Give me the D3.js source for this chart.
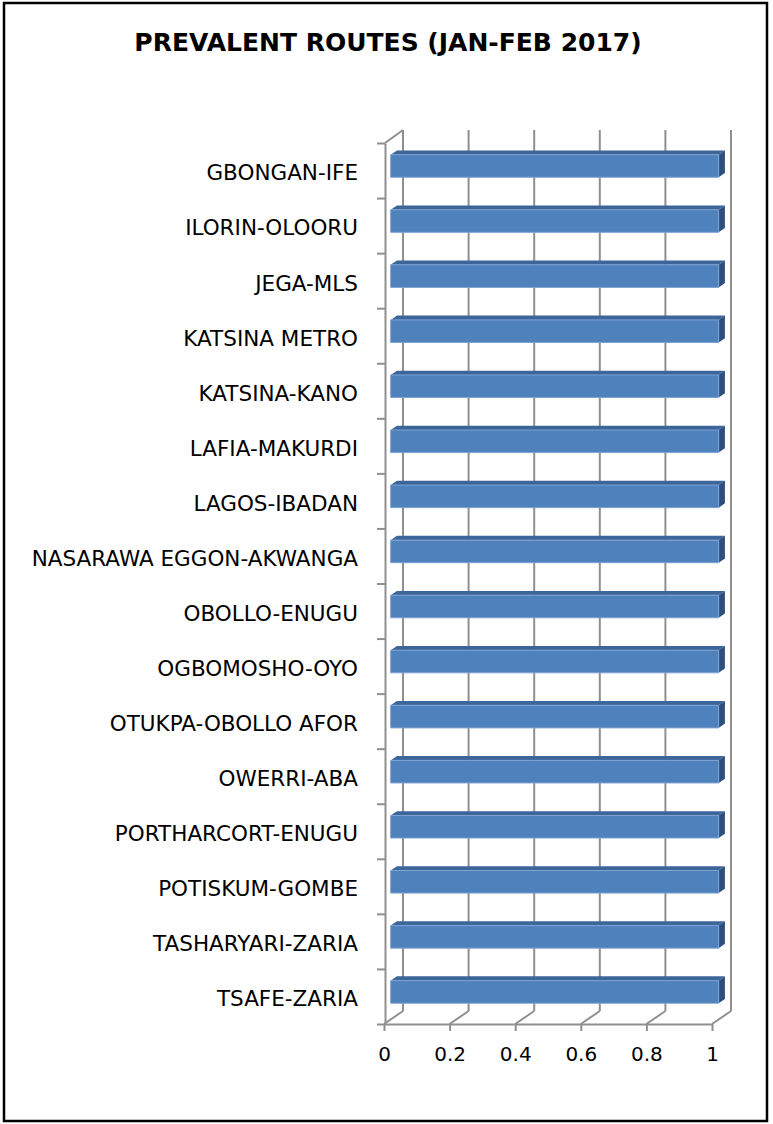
<!doctype html>
<html lang="en">
<head>
    <meta charset="utf-8">
    <title>Prevalent routes</title>
    <style>
        body { margin: 0; background: #fff; }
        text { font-family: 'Comic Sans MS', 'DejaVu Sans', sans-serif; fill: #000; }
        .grid { stroke: #8f8f8f; stroke-width: 2; fill: none; }
        .axis path, .axis line { stroke: #8f8f8f; stroke-width: 2; }
    </style>
</head>
<body>
    <div id="chart"></div>
    <script src="https://cdn.jsdelivr.net/npm/d3@7"></script>
    <script>
        (function () {

            // chart data
            var routes = ["GBONGAN-IFE", "ILORIN-OLOORU", "JEGA-MLS", "KATSINA METRO", "KATSINA-KANO",
                "LAFIA-MAKURDI", "LAGOS-IBADAN", "NASARAWA EGGON-AKWANGA", "OBOLLO-ENUGU", "OGBOMOSHO-OYO",
                "OTUKPA-OBOLLO AFOR", "OWERRI-ABA", "PORTHARCORT-ENUGU", "POTISKUM-GOMBE",
                "TASHARYARI-ZARIA", "TSAFE-ZARIA"];
            var counts = [1, 1, 1, 1, 1, 1, 1, 1, 1, 1, 1, 1, 1, 1, 1, 1];
            var xTicks = [0, 0.2, 0.4, 0.6, 0.8, 1];
            var xTickLabels = ["0", "0.2", "0.4", "0.6", "0.8", "1"];

            var width = 773;
            var height = 1124;

            // depth of the 3d box (back wall offset from the front plane)
            var depthX = 19, depthY = -13;
            var barFront = 0.35, barBack = 0.68;

            var svg = d3.select("#chart")
                .append("svg")
                .attr("width", width)
                .attr("height", height);

            svg.append("rect")
                .attr("x", 4).attr("y", 3)
                .attr("width", 763).attr("height", 1118)
                .attr("fill", "#fff")
                .attr("stroke", "#000")
                .attr("stroke-width", 2.5);

            svg.append("text")
                .attr("x", 388).attr("y", 51)
                .attr("text-anchor", "middle")
                .style("font-size", "25px")
                .style("font-weight", "bold")
                .text("PREVALENT ROUTES (JAN-FEB 2017)");

            var x = d3.scaleLinear().domain([0, 1]).range([384, 712]);
            var yEdge = d3.scaleLinear().domain([0, routes.length]).range([143, 1024]);
            var y = d3.scaleBand().domain(routes).range([143, 1024])
                .paddingInner(0.59).paddingOuter(0.295);
            var yLabel = d3.scaleBand().domain(routes).range([143, 1024]);

            var top = yEdge.range()[0], bottom = yEdge.range()[1];

            function pt(px, py, t) {
                return [px + depthX * t, py + depthY * t];
            }

            // back wall gridlines
            var grid = svg.append("g").attr("class", "grid");
            grid.selectAll("line.v")
                .data(xTicks)
                .enter().append("line")
                .attr("class", "v")
                .attr("x1", function (d) { return x(d) + depthX; })
                .attr("x2", function (d) { return x(d) + depthX; })
                .attr("y1", top + depthY)
                .attr("y2", bottom + depthY);

            // floor lines going back
            grid.selectAll("line.f")
                .data(xTicks)
                .enter().append("line")
                .attr("class", "f")
                .attr("x1", function (d) { return x(d); })
                .attr("y1", bottom)
                .attr("x2", function (d) { return x(d) + depthX; })
                .attr("y2", bottom + depthY);

            // left wall top edge
            grid.append("line")
                .attr("x1", x(0) + 1).attr("y1", top)
                .attr("x2", x(0) + depthX).attr("y2", top + depthY);

            // bottom axis
            svg.append("g")
                .attr("class", "axis")
                .attr("transform", "translate(0," + bottom + ")")
                .call(d3.axisBottom(x)
                    .tickValues(xTicks)
                    .tickSize(7)
                    .tickSizeOuter(0)
                    .tickPadding(16)
                    .tickFormat(function (d, i) { return xTickLabels[i]; }))
                .call(function (g) {
                    g.selectAll("text").style("font-size", "20px").attr("fill", "#000");
                });

            // left axis with ticks between categories
            svg.append("g")
                .attr("class", "axis")
                .attr("transform", "translate(" + (x(0) + 1) + ",0)")
                .call(d3.axisLeft(yEdge)
                    .tickValues(d3.range(routes.length + 1))
                    .tickSize(8)
                    .tickSizeOuter(0)
                    .tickFormat(""));

            // category labels
            svg.append("g")
                .attr("transform", "translate(" + (x(0) + 1) + ",3)")
                .call(d3.axisLeft(yLabel).tickSize(0).tickPadding(27))
                .call(function (g) {
                    g.select(".domain").remove();
                    g.selectAll("text").style("font-size", "21.5px").attr("fill", "#000");
                });

            // 3d bars
            var bars = svg.append("g").selectAll("g.bar")
                .data(routes.map(function (r, i) { return { route: r, value: counts[i] }; }))
                .enter().append("g")
                .attr("class", "bar");

            function poly(points) {
                return "M" + points.map(function (p) { return p.join(","); }).join("L") + "Z";
            }

            bars.append("path")
                .attr("fill", "#3c659a")
                .attr("d", function (d) {
                    var y0 = y(d.route), x0 = x(0), x1 = x(d.value);
                    return poly([pt(x0, y0, barFront), pt(x0, y0, barBack), pt(x1, y0, barBack), pt(x1, y0, barFront)]);
                });

            bars.append("path")
                .attr("fill", "#2e4f7c")
                .attr("d", function (d) {
                    var y0 = y(d.route), y1 = y0 + y.bandwidth(), x1 = x(d.value);
                    return poly([pt(x1, y0, barFront), pt(x1, y0, barBack), pt(x1, y1, barBack), pt(x1, y1, barFront)]);
                });

            bars.append("path")
                .attr("fill", "#4f81bd")
                .attr("stroke", "#7ea3d3")
                .attr("stroke-width", 1)
                .attr("d", function (d) {
                    var y0 = y(d.route), y1 = y0 + y.bandwidth(), x0 = x(0), x1 = x(d.value);
                    return poly([pt(x0, y0, barFront), pt(x1, y0, barFront), pt(x1, y1, barFront), pt(x0, y1, barFront)]);
                });

        })();
    </script>
</body>
</html>
